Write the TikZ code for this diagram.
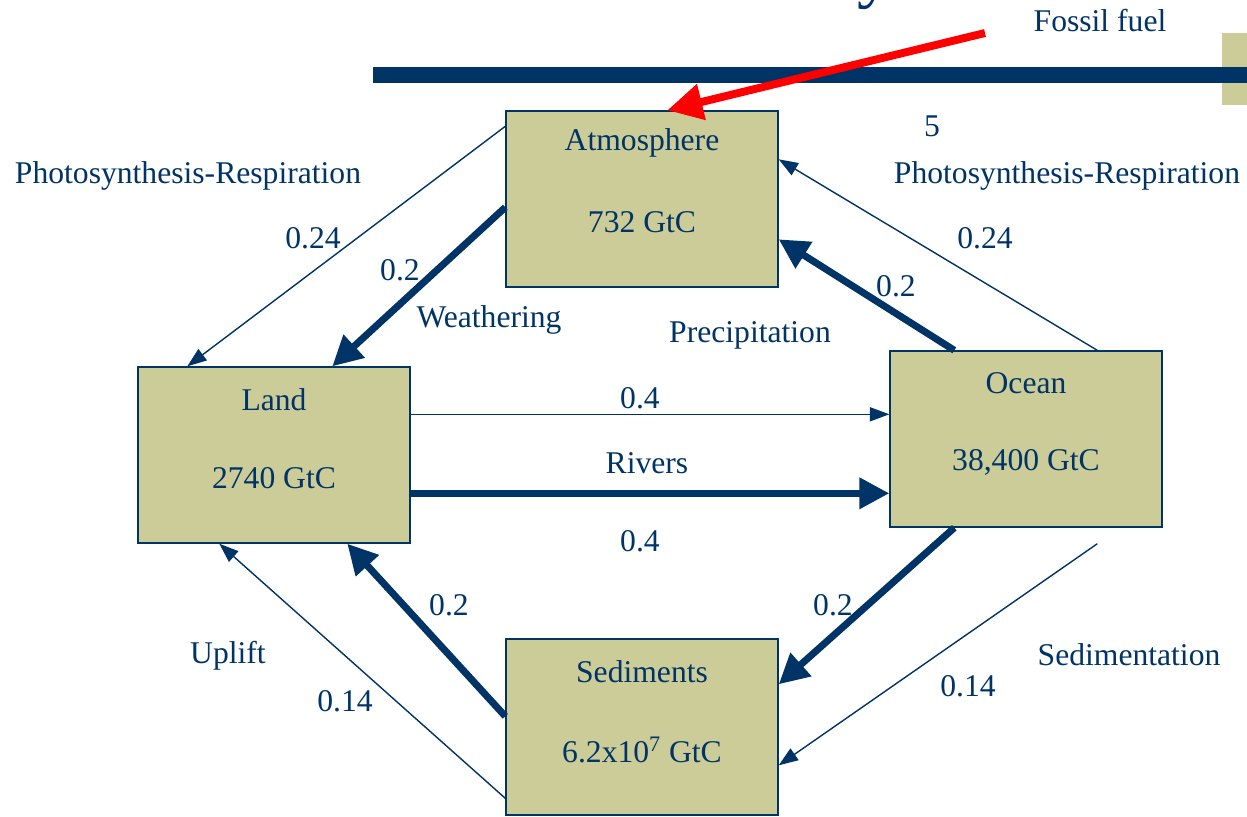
\documentclass[tikz,border=0pt]{standalone}
\usepackage{fontspec}
\setmainfont{Liberation Serif}
\usetikzlibrary{arrows.meta,positioning,calc}
\definecolor{navy}{RGB}{0,51,102}
\definecolor{khaki}{RGB}{204,204,153}
\definecolor{fuelred}{RGB}{255,0,0}

\begin{document}
\begin{tikzpicture}[
  x=0.02cm, y=-0.02cm,
  font=\fontsize{18}{21.6}\selectfont,
  box/.style={draw=navy, line width=0.8pt, fill=khaki, minimum width=272*0.02cm, minimum height=176*0.02cm, inner sep=0pt},
  note/.style={text=navy, inner sep=1pt},
  flow/.style={-{Triangle[length=11pt,width=8pt]}, draw=navy, line width=0.8pt},
  bigflow/.style={-{Triangle[length=17pt,width=17pt]}, draw=navy, line width=4pt},
  fuel/.style={-{Triangle[length=20pt,width=20pt]}, draw=fuelred, line width=4.5pt}
]
\useasboundingbox (0,0) rectangle (1247,816);
\clip (0,0) rectangle (1247,816);

% title remnants at the top
\node[text=navy, font=\fontsize{40}{48}\selectfont, anchor=base, inner sep=0pt] (title) at (875,-6) {y};
\fill[khaki] (1222,33) rectangle (1260,105);
\fill[navy] (373,67) rectangle (1260,83);

% reservoirs
\node[box] (atm) at (642,199) {};
\node[box] (land) at (274,455) {};
\node[box] (ocean) at (1026,439) {};
\node[box] (sed) at (642,727) {};

\node[note] (atmname) at ($(atm.north)+(0,33)$) {Atmosphere};
\node[note] (atmval) at ($(atm.north)+(0,112)$) {732 GtC};
\node[note] (landname) at ($(land.north)+(0,33)$) {Land};
\node[note] (landval) at ($(land.north)+(0,112)$) {2740 GtC};
\node[note] (oceanname) at ($(ocean.north)+(0,33)$) {Ocean};
\node[note] (oceanval) at ($(ocean.north)+(0,112)$) {38,400 GtC};
\node[note] (sedname) at ($(sed.north)+(0,33)$) {Sediments};
\node[note] (sedval) at ($(sed.north)+(0,112)$) {6.2x10\textsuperscript{7} GtC};

% flux labels
\node[note] (fossil) at (1100,21) {Fossil fuel};
\node[note] (five) at (932,126) {5};
\node[note] (psleft) at (188,176) {Photosynthesis-Respiration};
\node[note] (psright) at (1067,176) {Photosynthesis-Respiration};
\node[note] (psleftval) at (313,238) {0.24};
\node[note] (psrightval) at (985,238) {0.24};
\node[note] (weathval) at (400,270) {0.2};
\node[note] (weath) at (489,320) {Weathering};
\node[note] (precipval) at (896,286) {0.2};
\node[note] (precip) at (750,335) {Precipitation};
\node[note] (riverval) at (640,398) {0.4};
\node[note] (rivers) at (647,463) {Rivers};
\node[note] (riverval2) at (640,541) {0.4};
\node[note] (upval) at (449,605) {0.2};
\node[note] (uplift) at (228,656) {Uplift};
\node[note] (upval2) at (345,701) {0.14};
\node[note] (sedimval) at (833,605) {0.2};
\node[note] (sediment) at (1129,655) {Sedimentation};
\node[note] (sedimval2) at (968,686) {0.14};

% fluxes
\coordinate (fuelsrc) at (985,33);
\draw[fuel] (fuelsrc) -- ($(atm.north west)+(162,0)$);

\draw[flow] ($(atm.north west)+(0,16)$) -- ($(land.north west)+(50,0)$);
\draw[bigflow] ($(atm.north west)+(0,97)$) -- ($(land.north west)+(195,0)$);
\draw[flow] ($(ocean.north west)+(208,0)$) -- ($(atm.north east)+(0,49)$);
\draw[bigflow] ($(ocean.north west)+(65,0)$) -- ($(atm.north east)+(0,129)$);
\draw[flow] ($(land.north east)+(0,48)$) -- ($(ocean.north west)+(0,64)$);
\draw[bigflow] ($(land.north east)+(0,127)$) -- ($(ocean.north west)+(0,143)$);
\draw[bigflow] ($(ocean.south west)+(65,0)$) -- ($(sed.north east)+(0,46)$);
\draw[flow] ($(ocean.south west)+(208,16)$) -- ($(sed.north east)+(0,127)$);
\draw[bigflow] ($(sed.north west)+(0,78)$) -- ($(land.south west)+(210,0)$);
\draw[flow] ($(sed.north west)+(0,160)$) -- ($(land.south west)+(82,0)$);
\end{tikzpicture}
\end{document}
